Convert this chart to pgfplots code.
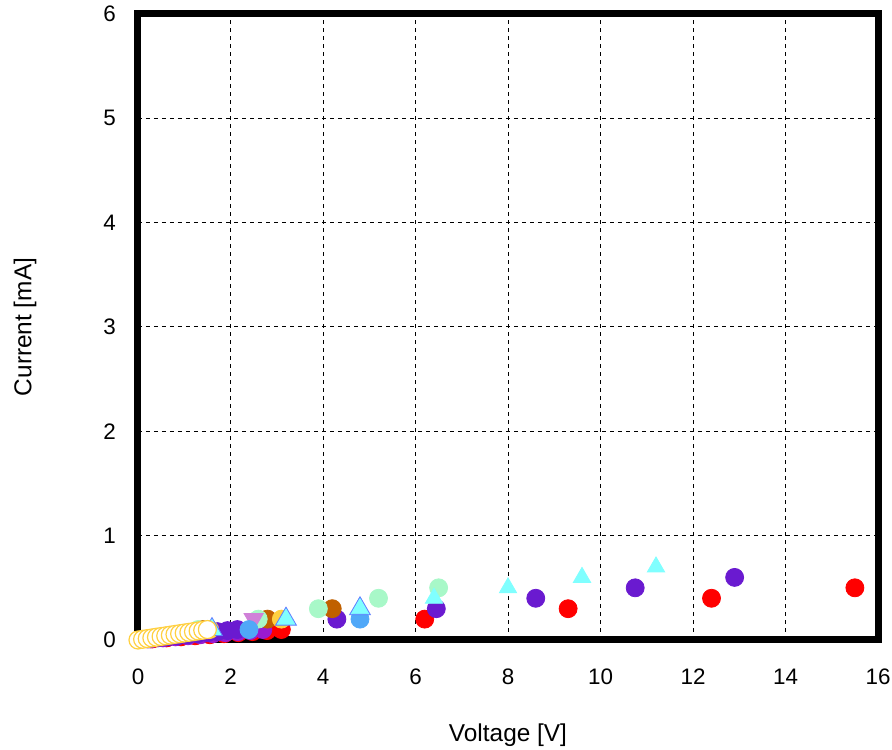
\documentclass[border=0pt]{standalone}
\usepackage{pgfplots}
\pgfplotsset{compat=1.18}
\usepackage{fontspec}
\setmainfont{Liberation Sans}
\definecolor{cRed}{HTML}{FF0000}
\definecolor{cPur}{HTML}{6A1AD0}
\definecolor{cVio}{HTML}{9A1AD0}
\definecolor{cOra}{HTML}{C06000}
\definecolor{cGrn}{HTML}{A8F8C8}
\definecolor{cOrc}{HTML}{D080D8}
\definecolor{cLbl}{HTML}{50A8F8}
\definecolor{cBlu}{HTML}{6080FF}
\definecolor{cCya}{HTML}{80FFFF}
\definecolor{cGld}{HTML}{FFD040}
\begin{document}
\begin{tikzpicture}
\begin{axis}[
  scale only axis, width=370pt, height=313pt,
  xmin=0, xmax=16, ymin=0, ymax=6,
  xtick={0,2,...,16}, ytick={0,1,...,6},
  major tick length=0pt,
  grid=major,
  major grid style={black, line width=0.5pt, dash pattern=on 2pt off 2pt},
  axis line style={line width=3.5pt},
  tick label style={font=\fontsize{11.2}{13}\selectfont},
  label style={font=\fontsize{12.2}{14}\selectfont},
  /pgf/number format/assume math mode=true,
  xticklabel style={yshift=-11pt},
  yticklabel style={xshift=-7.5pt},
  xlabel={Voltage [V]}, ylabel={Current [mA]},
  xlabel style={at={(axis description cs:0.5,-0.1518)}, anchor=center},
  ylabel style={at={(axis description cs:-0.1527,0.5)}, anchor=center},
  clip=false,
]
\addplot[only marks, mark=*, mark size=4.5pt, mark options={draw=cRed, fill=cRed}] coordinates {
(0.31,0.01)(0.62,0.02)(0.93,0.03)(1.24,0.04)(1.55,0.05)(1.86,0.06)(2.17,0.07)(2.48,0.08)(2.79,0.09)(3.1,0.1)
(6.2,0.2)(9.3,0.3)(12.4,0.4)(15.5,0.5)};
\addplot[only marks, mark=*, mark size=4.5pt, mark options={draw=cVio, fill=cVio}] coordinates {
(0.27,0.01)(0.54,0.02)(0.81,0.03)(1.08,0.04)(1.35,0.05)(1.62,0.06)(1.89,0.07)(2.16,0.08)(2.43,0.09)(2.7,0.1)};
\addplot[only marks, mark=*, mark size=4.5pt, mark options={draw=cPur, fill=cPur}] coordinates {
(0.215,0.01)(0.43,0.02)(0.645,0.03)(0.86,0.04)(1.075,0.05)(1.29,0.06)(1.505,0.07)(1.72,0.08)(1.935,0.09)(2.15,0.1)
(4.3,0.2)(6.45,0.3)(8.6,0.4)(10.75,0.5)(12.9,0.6)};
\addplot[only marks, mark=*, mark size=4.5pt, mark options={draw=cOra, fill=cOra}] coordinates {
(1.4,0.1)(2.8,0.2)(4.2,0.3)};
\addplot[only marks, mark=*, mark size=4.5pt, mark options={draw=cGrn, fill=cGrn}] coordinates {
(1.3,0.1)(2.6,0.2)(3.9,0.3)(5.2,0.4)(6.5,0.5)};
\addplot[only marks, mark=triangle*, mark size=5.5pt, mark options={draw=cOrc, fill=cOrc, rotate=180}] coordinates {
(1.25,0.1)(2.5,0.2)};
\addplot[only marks, mark=*, mark size=4.5pt, mark options={draw=cLbl, fill=cLbl}] coordinates {
(2.4,0.1)(4.8,0.2)};
\addplot[only marks, mark=*, mark size=4.5pt, mark options={draw=cGld, fill=cGld}] coordinates {
(1.55,0.1)(3.1,0.2)};
\addplot[only marks, mark=triangle*, mark size=6pt, mark options={draw=cBlu, fill=cBlu}] coordinates {
(1.6,0.1)(3.2,0.2)(4.8,0.3)};
\addplot[only marks, mark=triangle*, mark size=5pt, mark options={draw=cCya, fill=cCya}] coordinates {
(1.6,0.1)(3.2,0.2)(4.8,0.3)(6.4,0.4)(8.0,0.5)(9.6,0.6)(11.2,0.7)};
\addplot[only marks, mark=*, mark size=4.5pt, mark options={draw=cGld, fill=white, line width=0.6pt}] coordinates {
(0,0.0)(0.1,0.0067)(0.2,0.0133)(0.3,0.02)(0.4,0.0267)(0.5,0.0333)(0.6,0.04)(0.7,0.0467)(0.8,0.0533)(0.9,0.06)(1.0,0.0667)(1.1,0.0733)(1.2,0.08)(1.3,0.0867)(1.4,0.0933)(1.5,0.1)};
\end{axis}
\pgfresetboundingbox
\path[use as bounding box] (current axis.south west) ++(-69pt,-55pt) rectangle ([xshift=7pt,yshift=7pt]current axis.north east);
\end{tikzpicture}
\end{document}
